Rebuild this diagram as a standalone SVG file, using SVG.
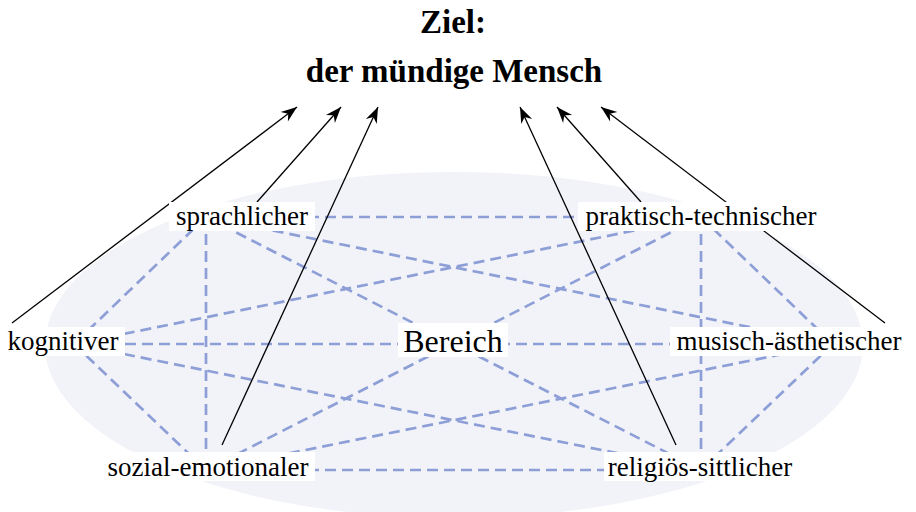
<svg xmlns="http://www.w3.org/2000/svg" width="916" height="512" viewBox="0 0 916 512">
  <style>
    .title { font-family: "Liberation Serif", "Times New Roman", serif; font-weight: bold; font-size: 33px; fill: #000; text-anchor: middle; }
    .lbl { font-family: "Liberation Serif", "Times New Roman", serif; font-size: 27px; fill: #000; text-anchor: middle; }
    .center { font-size: 32px; }
    .box { fill: #ffffff; }
    .link { stroke: #8d9fd6; stroke-width: 2.7; stroke-dasharray: 11 6; fill: none; }
    .arrow { stroke: #000; stroke-width: 1.3; fill: none; marker-end: url(#head); }
  </style>
  <defs>
    <marker id="head" markerUnits="userSpaceOnUse" markerWidth="20" markerHeight="16" viewBox="-17 -8 19 16" refX="0" refY="0" orient="auto">
      <path d="M0,0 L-16,-6 L-11,0 L-16,6 Z" fill="#000"/>
    </marker>
  </defs>

  <rect width="916" height="512" fill="#ffffff"/>

  <!-- background field -->
  <ellipse cx="454" cy="345" rx="409" ry="173" fill="#f2f3f9"/>

  <!-- dashed links between all six areas -->
  <g id="connectors">
    <g id="links">
      <line class="link" x1="206" y1="217" x2="701" y2="217"/>
      <line class="link" x1="206" y1="217" x2="74" y2="344"/>
      <line class="link" x1="206" y1="217" x2="206" y2="470"/>
      <line class="link" x1="206" y1="217" x2="833" y2="344"/>
      <line class="link" x1="206" y1="217" x2="701" y2="470"/>
      <line class="link" x1="701" y1="217" x2="74" y2="344"/>
      <line class="link" x1="701" y1="217" x2="833" y2="344"/>
      <line class="link" x1="701" y1="217" x2="206" y2="470"/>
      <line class="link" x1="701" y1="217" x2="701" y2="470"/>
      <line class="link" x1="74" y1="344" x2="833" y2="344"/>
      <line class="link" x1="74" y1="344" x2="206" y2="470"/>
      <line class="link" x1="74" y1="344" x2="701" y2="470"/>
      <line class="link" x1="833" y1="344" x2="206" y2="470"/>
      <line class="link" x1="833" y1="344" x2="701" y2="470"/>
      <line class="link" x1="206" y1="470" x2="701" y2="470"/>
    </g>
    <!-- arrows towards the goal -->
    <g id="arrows">
      <line class="arrow" x1="12" y1="323" x2="297" y2="107"/>
      <line class="arrow" x1="257" y1="202" x2="341" y2="107"/>
      <line class="arrow" x1="222" y1="445" x2="378" y2="107"/>
      <line class="arrow" x1="676" y1="445" x2="520" y2="107"/>
      <line class="arrow" x1="641" y1="202" x2="557" y2="107"/>
      <line class="arrow" x1="885" y1="323" x2="601" y2="107"/>
    </g>
  </g>

  <!-- goal -->
  <g id="goal">
    <text class="title" x="453" y="33">Ziel:</text>
    <text class="title" x="454" y="82">der mündige Mensch</text>
  </g>

  <g id="sprachlicher">
    <rect class="box" x="169" y="202" width="146" height="29"/>
    <text class="lbl" x="242" y="225">sprachlicher</text>
  </g>
  <g id="praktisch-technischer">
    <rect class="box" x="578" y="202" width="245" height="29"/>
    <text class="lbl" x="701" y="225">praktisch-technischer</text>
  </g>
  <g id="kognitiver">
    <rect class="box" x="2" y="327" width="123" height="29"/>
    <text class="lbl" x="63" y="350">kognitiver</text>
  </g>
  <g id="musisch-aesthetischer">
    <rect class="box" x="670" y="327" width="238" height="29"/>
    <text class="lbl" x="789" y="350">musisch-ästhetischer</text>
  </g>
  <g id="sozial-emotionaler">
    <rect class="box" x="102" y="452" width="213" height="29"/>
    <text class="lbl" x="208" y="476">sozial-emotionaler</text>
  </g>
  <g id="religioes-sittlicher">
    <rect class="box" x="604" y="452" width="193" height="29"/>
    <text class="lbl" x="700" y="476">religiös-sittlicher</text>
  </g>
  <g id="bereich">
    <rect class="box" x="398" y="323" width="110" height="34"/>
    <text class="lbl center" x="453" y="352">Bereich</text>
  </g>
</svg>
